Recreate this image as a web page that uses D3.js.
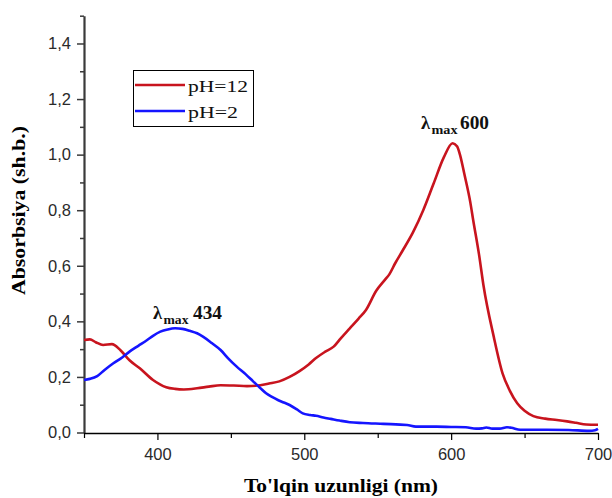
<!DOCTYPE html>
<html>
<head>
<meta charset="utf-8">
<script src="https://cdn.jsdelivr.net/npm/d3@7"></script>
<style>
  html, body { margin: 0; padding: 0; background: #fff; }
  svg { display: block; }
</style>
</head>
<body>
<svg id="chart" width="612" height="498"></svg>
<script>
// ---- Data ----
const seriesNames = ["pH=12", "pH=2"];
const seriesColors = ["#c8141e", "#1515ff"];

const redWavelength = [350,354,358,363,369,375,381,388,397,406,412,418,427,435,443,452,461,470,476,483,490,497,503,508,514,520,525,531,537,542,549,555,558,562,567,574,581,588,595,601,604,606,609,613,615,619,622,629,635,640,645,650,656,664,672,679,685,692,700];
const redAbs = [0.333,0.335,0.325,0.315,0.318,0.295,0.26,0.231,0.189,0.163,0.157,0.155,0.159,0.165,0.170,0.169,0.167,0.170,0.176,0.184,0.200,0.222,0.245,0.268,0.290,0.309,0.34,0.375,0.41,0.441,0.51,0.55,0.57,0.61,0.655,0.72,0.80,0.895,0.99,1.041,1.03,1.00,0.93,0.83,0.765,0.64,0.53,0.345,0.213,0.15,0.105,0.078,0.059,0.05,0.045,0.04,0.035,0.029,0.028];

const blueWavelength = [350,354,359,364,370,376,381,387,393,397,402,407,412,417,422,427,431,437,443,448,454,460,465,470,474,478,482,486,490,495,499,504,508,513,518,524,531,540,554,570,576,590,600,610,617,621,624,628,633,638,641,647,660,680,694,698,700];
const blueAbs = [0.189,0.193,0.203,0.225,0.249,0.27,0.291,0.312,0.333,0.348,0.363,0.371,0.375,0.373,0.366,0.357,0.345,0.322,0.297,0.268,0.237,0.21,0.185,0.16,0.141,0.128,0.117,0.108,0.099,0.083,0.069,0.063,0.060,0.054,0.049,0.043,0.037,0.034,0.031,0.027,0.021,0.021,0.020,0.019,0.014,0.015,0.018,0.014,0.014,0.019,0.017,0.010,0.010,0.009,0.006,0.008,0.013];

const xMajorTicks = [400, 500, 600, 700];
const xMinorTicks = [350, 450, 550, 650];
const yMajorTicks = [0, 0.2, 0.4, 0.6, 0.8, 1.0, 1.2, 1.4];
const yMinorTicks = [0.1, 0.3, 0.5, 0.7, 0.9, 1.1, 1.3, 1.5];

const annotationLabels = ["600", "434"];

// ---- Layout ----
const svg = d3.select("#chart");
const x = d3.scaleLinear().domain([350, 700]).range([84, 598]);
const y = d3.scaleLinear().domain([0, 1.5]).range([432.5, 15.7]);

const fmt = d => d.toFixed(1).replace(".", ",");

// Y axis
const yAxisG = svg.append("g").attr("transform", "translate(84,0)");
yAxisG.call(d3.axisLeft(y).tickValues(yMajorTicks).tickSize(7).tickSizeOuter(0).tickPadding(6).tickFormat(fmt));
yAxisG.call(g => g.select(".domain").attr("stroke", "#3a3a3a").attr("stroke-width", 2.2));
yAxisG.selectAll(".tick line").attr("stroke", "#3a3a3a").attr("stroke-width", 1.5);
yAxisG.selectAll(".tick text").attr("font-family", "'Liberation Sans', Arial, sans-serif")
  .attr("font-size", 16.5).attr("fill", "#2a2a2a");
const yMinorG = svg.append("g").attr("transform", "translate(84,0)");
yMinorG.call(d3.axisLeft(y).tickValues(yMinorTicks).tickSize(4).tickSizeOuter(0).tickFormat(""));
yMinorG.select(".domain").remove();
yMinorG.selectAll(".tick line").attr("stroke", "#3a3a3a").attr("stroke-width", 1.5);

// X axis
const xAxisG = svg.append("g").attr("transform", "translate(0,433)");
xAxisG.call(d3.axisBottom(x).tickValues(xMajorTicks).tickSize(7).tickSizeOuter(0).tickPadding(8).tickFormat(d3.format("d")));
xAxisG.select(".domain").attr("stroke", "#000").attr("stroke-width", 1.4);
xAxisG.selectAll(".tick line").attr("stroke", "#000").attr("stroke-width", 1.2);
xAxisG.selectAll(".tick text").attr("font-family", "'Liberation Sans', Arial, sans-serif")
  .attr("font-size", 16.5).attr("fill", "#2a2a2a");
const xMinorG = svg.append("g").attr("transform", "translate(0,433)");
xMinorG.call(d3.axisBottom(x).tickValues(xMinorTicks).tickSize(5).tickSizeOuter(0).tickFormat(""));
xMinorG.select(".domain").remove();
xMinorG.selectAll(".tick line").attr("stroke", "#000").attr("stroke-width", 1.2);

// Curves
const line = d3.line().x(d => x(d[0])).y(d => y(d[1])).curve(d3.curveMonotoneX);
const redData = d3.zip(redWavelength, redAbs);
const blueData = d3.zip(blueWavelength, blueAbs);
[redData, blueData].forEach((data, i) => {
  svg.append("path").datum(data).attr("d", line)
    .attr("fill", "none").attr("stroke", seriesColors[i]).attr("stroke-width", 2.6)
    .attr("stroke-linejoin", "round");
});

// Axis titles
svg.append("text")
  .attr("x", 341).attr("y", 492).attr("text-anchor", "middle")
  .attr("font-family", "'Liberation Serif', 'Times New Roman', serif")
  .attr("font-weight", "bold").attr("font-size", 18)
  .attr("textLength", 194).attr("lengthAdjust", "spacingAndGlyphs")
  .text("To'lqin uzunligi (nm)");

svg.append("text")
  .attr("transform", "translate(25,210.5) rotate(-90)")
  .attr("text-anchor", "middle")
  .attr("font-family", "'Liberation Serif', 'Times New Roman', serif")
  .attr("font-weight", "bold").attr("font-size", 18)
  .attr("textLength", 169).attr("lengthAdjust", "spacingAndGlyphs")
  .text("Absorbsiya (sh.b.)");

// Legend
const legend = svg.append("g");
legend.append("rect").attr("x", 133.5).attr("y", 70.5).attr("width", 120).attr("height", 56)
  .attr("fill", "#fff").attr("stroke", "#000").attr("stroke-width", 1);
const legendRows = [85, 111];
seriesNames.forEach((name, i) => {
  legend.append("line").attr("x1", 135).attr("x2", 185)
    .attr("y1", legendRows[i]).attr("y2", legendRows[i])
    .attr("stroke", seriesColors[i]).attr("stroke-width", 2.6);
  legend.append("text").attr("x", 188).attr("y", legendRows[i] + 6.5)
    .attr("font-family", "'Liberation Serif', 'Times New Roman', serif")
    .attr("font-size", 17.5).attr("fill", "#111")
    .attr("textLength", i === 0 ? 60 : 50).attr("lengthAdjust", "spacingAndGlyphs")
    .text(name);
});

// Peak annotations (lambda, subscript "max", value)
const annPos = [
  { lx: 421, mx: 431.5, mw: 26, vx: 460, vw: 29, base: 128.5 },
  { lx: 153, mx: 163.5, mw: 25, vx: 193, vw: 29, base: 318.5 }
];
const serifBold = t => t.attr("font-family", "'Liberation Serif', 'Times New Roman', serif")
  .attr("font-weight", "bold").attr("fill", "#111");
annotationLabels.forEach((label, i) => {
  const p = annPos[i];
  serifBold(svg.append("text")).attr("x", p.lx).attr("y", p.base).attr("font-size", 18.5).text("λ");
  serifBold(svg.append("text")).attr("x", p.mx).attr("y", p.base + 5.5).attr("font-size", 13)
    .attr("textLength", p.mw).attr("lengthAdjust", "spacingAndGlyphs").text("max");
  serifBold(svg.append("text")).attr("x", p.vx).attr("y", p.base).attr("font-size", 18)
    .attr("textLength", p.vw).attr("lengthAdjust", "spacingAndGlyphs").text(label);
});
</script>
</body>
</html>
